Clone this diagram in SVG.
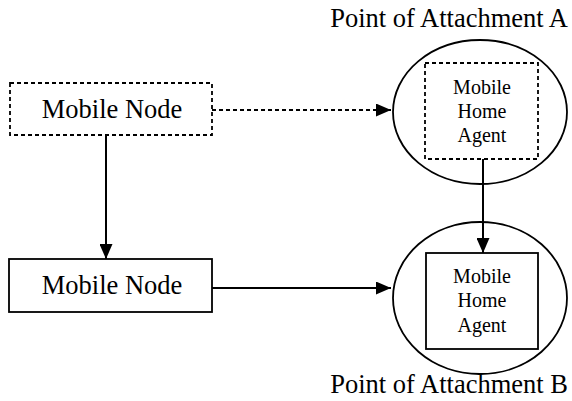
<svg xmlns="http://www.w3.org/2000/svg" width="572" height="401" viewBox="0 0 572 401">
<style>
text{font-family:"Liberation Serif","Times New Roman",serif;fill:#000;}
.big{font-size:26.5px;}
.small{font-size:20px;}
.box{fill:#fff;stroke:#000;stroke-width:1.8;}
.dash{stroke-dasharray:4,3;}
.ell{fill:#fff;stroke:#000;stroke-width:1.8;}
.conn{stroke:#000;stroke-width:2;fill:none;}
</style>
<defs>
<marker id="arr" markerWidth="15" markerHeight="13" refX="15" refY="6.5" orient="auto" markerUnits="userSpaceOnUse">
<path d="M0,0 L15,6.5 L0,13 Z" fill="#000"/>
</marker>
</defs>
<g id="poaA">
<ellipse class="ell" cx="480" cy="112" rx="87" ry="72"/>
<text class="big" x="568" y="27" text-anchor="end">Point of Attachment A</text>
</g>
<g id="poaB">
<ellipse class="ell" cx="480" cy="298" rx="87" ry="76"/>
<text class="big" x="568" y="393" text-anchor="end">Point of Attachment B</text>
</g>
<g id="mn1">
<rect class="box dash" x="10" y="83" width="202" height="52"/>
<text class="big" x="112" y="118" text-anchor="middle">Mobile Node</text>
</g>
<g id="mn2">
<rect class="box" x="9" y="259" width="203" height="53"/>
<text class="big" x="112" y="294" text-anchor="middle">Mobile Node</text>
</g>
<g id="haA">
<rect class="box dash" x="425" y="63" width="113" height="96"/>
<text class="small" x="482" y="94" text-anchor="middle">Mobile</text>
<text class="small" x="482" y="118" text-anchor="middle">Home</text>
<text class="small" x="482" y="142" text-anchor="middle">Agent</text>
</g>
<g id="haB">
<rect class="box" x="426" y="253" width="112" height="96"/>
<text class="small" x="482" y="283" text-anchor="middle">Mobile</text>
<text class="small" x="482" y="307" text-anchor="middle">Home</text>
<text class="small" x="482" y="332" text-anchor="middle">Agent</text>
</g>
<g id="connectors">
<line class="conn dash" x1="212" y1="110" x2="391" y2="110" marker-end="url(#arr)"/>
<line class="conn" x1="106" y1="135" x2="106" y2="259" marker-end="url(#arr)"/>
<line class="conn" x1="212" y1="288" x2="391" y2="288" marker-end="url(#arr)"/>
<line class="conn" x1="483" y1="159" x2="483" y2="253" marker-end="url(#arr)"/>
</g>
</svg>
